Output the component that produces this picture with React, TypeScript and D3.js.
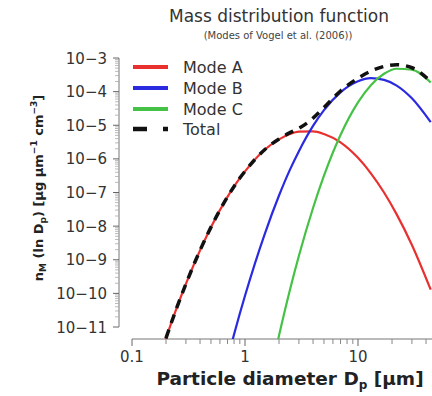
import * as d3 from 'd3'

const W = 432, H = 396
const FONT = '"DejaVu Sans", Arial, sans-serif'

// particle diameter (µm) and log10 of n_M for each mode
const diam = [0.18, 0.2, 0.25, 0.3, 0.4, 0.5, 0.7, 0.8, 0.9, 1, 1.5, 2, 2.5, 3, 4, 5, 7, 10, 13, 17, 22, 30, 44]
const modeA = [-11.79, -11.33, -10.41, -9.72, -8.72, -8.03, -7.13, -6.82, -6.57, -6.37, -5.72, -5.42, -5.26, -5.19, -5.18, -5.26, -5.51, -5.97, -6.43, -7.0, -7.65, -8.56, -9.89]
const modeB = [null, null, null, null, null, null, -11.96, -11.22, -10.6, -10.07, -8.22, -7.09, -6.32, -5.77, -5.02, -4.55, -4.02, -3.69, -3.6, -3.65, -3.82, -4.2, -4.91]
const modeC = [null, null, null, null, null, null, null, null, null, null, -13.17, -11.25, -9.89, -8.88, -7.46, -6.5, -5.29, -4.32, -3.81, -3.47, -3.32, -3.35, -3.73]
const total = [-11.79, -11.33, -10.41, -9.72, -8.72, -8.03, -7.13, -6.82, -6.57, -6.37, -5.72, -5.41, -5.22, -5.09, -4.79, -4.47, -3.98, -3.6, -3.39, -3.25, -3.2, -3.29, -3.7]

const seriesNames = ['Mode A', 'Mode B', 'Mode C', 'Total']
const seriesColors = ['#e8312f', '#2a2ae0', '#45c245', '#111111']

const xMajor = [0.1, 1, 10]
const xMajorLabels = ['0.1', '1', '10']
const xMinor = [0.2, 0.3, 0.4, 0.5, 0.6, 0.7, 0.8, 0.9, 2, 3, 4, 5, 6, 7, 8, 9, 20, 30, 40]
const yExps = [-3, -4, -5, -6, -7, -8, -9, -10, -11]

export default function App() {
  const x = d3.scaleLog().domain([0.1, 10]).range([132, 358])
  const y = d3.scaleLog().domain([1e-11, 1e-3]).range([327, 58])
  const axisY = 339, axisX = 119

  const line = d3.line<[number, number | null]>()
    .defined(d => d[1] != null)
    .x(d => x(d[0]))
    .y(d => y(Math.pow(10, d[1] as number)))
    .curve(d3.curveMonotoneX)

  const pts = (vals: (number | null)[]) => diam.map((D, i) => [D, vals[i]] as [number, number | null])

  // minor y ticks 2..9 within each decade
  const yMinor: number[] = []
  for (let e = -11; e < -3; e++) for (let k = 2; k <= 9; k++) yMinor.push(k * Math.pow(10, e))

  const legendY = [67, 88, 109, 129]

  return (
    <svg width={W} height={H} style={{ position: 'absolute', left: 0, top: 0, background: '#fff' }} fontFamily={FONT}>
      <defs>
        <clipPath id="plot"><rect x={132} y={0} width={W - 132} height={axisY} /></clipPath>
      </defs>

      {/* title */}
      <text x={279} y={22} textAnchor="middle" fontSize={17} fill="#333">Mass distribution function</text>
      <text x={278} y={39} textAnchor="middle" fontSize={10} fill="#444">(Modes of Vogel et al. (2006))</text>

      {/* y axis */}
      <line x1={axisX} x2={axisX} y1={y(1e-11)} y2={y(1e-3)} stroke="#777" strokeWidth={1} />
      {yMinor.map((v, i) => (
        <line key={'ym' + i} x1={axisX - 4} x2={axisX} y1={y(v)} y2={y(v)} stroke="#aaa" strokeWidth={0.8} />
      ))}
      {yExps.map(e => (
        <g key={'y' + e}>
          <line x1={axisX - 6} x2={axisX} y1={y(Math.pow(10, e))} y2={y(Math.pow(10, e))} stroke="#666" strokeWidth={1} />
          <text x={107} y={y(Math.pow(10, e)) + 5.5} textAnchor="end" fontSize={15} fill="#333">{'10\u2212' + (-e)}</text>
        </g>
      ))}

      {/* x axis */}
      <line x1={132} x2={W} y1={axisY} y2={axisY} stroke="#777" strokeWidth={1} />
      {xMinor.map((v, i) => (
        <line key={'xm' + i} x1={x(v)} x2={x(v)} y1={axisY} y2={axisY + 5} stroke="#888" strokeWidth={1} />
      ))}
      {xMajor.map((v, i) => (
        <g key={'x' + i}>
          <line x1={x(v)} x2={x(v)} y1={axisY} y2={axisY + 7} stroke="#666" strokeWidth={1} />
          <text x={x(v)} y={362} textAnchor="middle" fontSize={15} fill="#333">{xMajorLabels[i]}</text>
        </g>
      ))}

      {/* axis titles */}
      <text x={290} y={385} textAnchor="middle" fontSize={18.5} fontWeight="bold" fill="#222">
        Particle diameter D<tspan fontSize={12} dy={4}>p</tspan><tspan dy={-4}> [µm]</tspan>
      </text>
      <text transform="translate(43,188) rotate(-90)" textAnchor="middle" fontSize={13} fontWeight="bold" fill="#222">
        n<tspan fontSize={9} dy={3}>M</tspan><tspan dy={-3}> (ln D</tspan><tspan fontSize={9} dy={3}>p</tspan><tspan dy={-3}>) [µg µm</tspan><tspan fontSize={9} dy={-6}>−1</tspan><tspan dy={6}> cm</tspan><tspan fontSize={9} dy={-6}>−3</tspan><tspan dy={6}>]</tspan>
      </text>

      {/* curves */}
      <g clipPath="url(#plot)" fill="none">
        <path d={line(pts(modeA)) || ''} stroke={seriesColors[0]} strokeWidth={2.2} />
        <path d={line(pts(modeB)) || ''} stroke={seriesColors[1]} strokeWidth={2.2} />
        <path d={line(pts(modeC)) || ''} stroke={seriesColors[2]} strokeWidth={2.2} />
        <path d={line(pts(total)) || ''} stroke={seriesColors[3]} strokeWidth={3.5} strokeDasharray="9 7" />
      </g>

      {/* legend */}
      {seriesNames.map((name, i) => (
        <g key={name}>
          <line x1={133} x2={168} y1={legendY[i]} y2={legendY[i]} stroke={seriesColors[i]}
            strokeWidth={i === 3 ? 4.5 : 4} strokeDasharray={i === 3 ? '14 16' : undefined} />
          <text x={183} y={legendY[i] + 5.5} fontSize={16} fill="#333">{name}</text>
        </g>
      ))}
    </svg>
  )
}
